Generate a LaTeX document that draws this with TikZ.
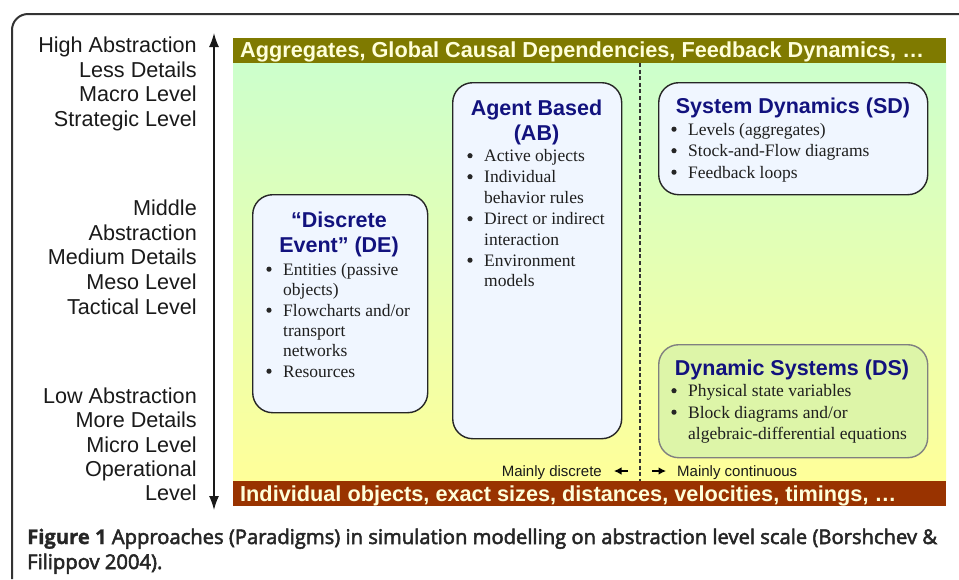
\documentclass[tikz,border=0pt]{standalone}
\usepackage{fontspec}
\setmainfont{Liberation Serif}
\newfontfamily\arialf{Liberation Sans}
\newfontfamily\capfont[FakeBold=1.2]{Open Sans}
\newfontfamily\capsemi[FakeBold=2.6]{Open Sans}
\usetikzlibrary{arrows.meta}
\definecolor{topgreen}{HTML}{CCFFCC}
\definecolor{botyellow}{HTML}{FFFF99}
\definecolor{olivebar}{HTML}{7F7A00}
\definecolor{rustbar}{HTML}{993300}
\definecolor{titleblue}{HTML}{12127E}
\definecolor{boxfill}{HTML}{F0F6FF}
\definecolor{dsfill}{HTML}{DDF5A8}
\definecolor{bartext}{HTML}{FFFFDA}
\definecolor{framegray}{HTML}{333333}
\definecolor{lbltext}{HTML}{1A1A1A}
\definecolor{captext}{HTML}{262626}
\newcommand\itm[3]{\fill[black!85] (#1-14,#2-5.8) circle (2.6pt);
  \node[btxt, anchor=base west] at (#1,#2) {#3};}
\newcommand\cnt[3]{\node[btxt, anchor=base west] at (#1,#2) {#3};}
\begin{document}
\begin{tikzpicture}[x=1pt,y=-1pt,
  lbl/.style={inner sep=0pt, text=lbltext, font=\arialf\fontsize{21.6}{26}\selectfont},
  bartxt/.style={inner sep=0pt, text=bartext, font=\arialf\bfseries\fontsize{21.7}{26}\selectfont},
  ttl/.style={inner sep=0pt, text=titleblue, font=\arialf\bfseries\fontsize{21.5}{26}\selectfont},
  btxt/.style={inner sep=0pt, text=black!88, font=\fontsize{17.5}{21}\selectfont},
  small/.style={inner sep=0pt, text=lbltext, font=\arialf\fontsize{15}{18}\selectfont},
  pbox/.style={draw=black!85, line width=1.4pt, rounded corners=20pt, fill=boxfill, inner sep=0pt, anchor=north west},
  dsbox/.style={draw=black!50, line width=1.4pt, rounded corners=20pt, fill=dsfill, inner sep=0pt, anchor=north west},
  bar/.style={inner sep=0pt, anchor=north west, minimum width=713pt, minimum height=25pt},
  dashline/.style={draw=framegray, line width=1.3pt, dash pattern=on 4pt off 2.6pt},
  captxt/.style={inner sep=0pt, text=captext, font=\capsemi\fontsize{20.2}{24}\selectfont}
]
\useasboundingbox (0,0) rectangle (959,579);
\fill[white] (0,0) rectangle (959,579);
% outer frame
\coordinate (fbl) at (12,579);
\coordinate (ftl) at (12,14);
\coordinate (ftr) at (959,14);
\draw[framegray, line width=2pt, rounded corners=16pt] (fbl) -- (ftl) -- (ftr);
% gradient panel
\shade[top color=topgreen, bottom color=botyellow] (233,62) rectangle (946,482);
\node[bar, fill=olivebar] (topbar) at (233,38) {};
\node[bar, fill=rustbar, minimum height=25.5pt] (botbar) at (233,480.5) {};
\node[bartxt, anchor=base west] (toptxt) at (240,57) {Aggregates, Global Causal Dependencies, Feedback Dynamics, …};
\node[bartxt, anchor=base west] (bottxt) at (240,501) {Individual objects, exact sizes, distances, velocities, timings, …};
% dashed divider
\coordinate (dtop) at (640,63);
\coordinate (dbot) at (640,481);
\draw[dashline] (dtop) -- (dbot);
% abstraction arrow
\coordinate (atop) at (214,33);
\coordinate (abot) at (214,510);
\draw[line width=1.5pt, black!90, {Latex[length=14pt,width=10pt]}-{Latex[length=14pt,width=10pt]}] (atop) -- (abot);
% left labels
\node[lbl, anchor=base east] (l1) at (197,52) {High Abstraction};
\node[lbl, anchor=base east] (l2) at (197,77) {Less Details};
\node[lbl, anchor=base east] (l3) at (197,101.5) {Macro Level};
\node[lbl, anchor=base east] (l4) at (197,126) {Strategic Level};
\node[lbl, anchor=base east] (m1) at (197,215) {Middle};
\node[lbl, anchor=base east] (m2) at (197,240) {Abstraction};
\node[lbl, anchor=base east] (m3) at (197,264.5) {Medium Details};
\node[lbl, anchor=base east] (m4) at (197,289) {Meso Level};
\node[lbl, anchor=base east] (m5) at (197,314) {Tactical Level};
\node[lbl, anchor=base east] (b1) at (197,403) {Low Abstraction};
\node[lbl, anchor=base east] (b2) at (197,427.5) {More Details};
\node[lbl, anchor=base east] (b3) at (197,452) {Micro Level};
\node[lbl, anchor=base east] (b4) at (197,476) {Operational};
\node[lbl, anchor=base east] (b5) at (197,500.5) {Level};
% boxes
\node[pbox, minimum width=175pt, minimum height=218pt] (de) at (252,194) {};
\node[pbox, minimum width=169pt, minimum height=356pt] (ab) at (452,82) {};
\node[pbox, minimum width=269pt, minimum height=112pt] (sd) at (658,82) {};
\node[dsbox, minimum width=269pt, minimum height=113pt] (ds) at (658,344) {};
% DE
\node[ttl, anchor=base] (detitle1) at (339,227) {“Discrete};
\node[ttl, anchor=base] (detitle2) at (339,252.5) {Event” (DE)};
\itm{283}{275}{Entities (passive}
\cnt{283}{295.5}{objects)}
\itm{283}{316}{Flowcharts and/or}
\cnt{283}{336.5}{transport}
\cnt{283}{356.5}{networks}
\itm{283}{377}{Resources}
% AB
\node[ttl, anchor=base] (abtitle1) at (536.5,115) {Agent Based};
\node[ttl, anchor=base] (abtitle2) at (536.5,140) {(AB)};
\itm{484}{161.5}{Active objects}
\itm{484}{182.5}{Individual}
\cnt{484}{203}{behavior rules}
\itm{484}{224.5}{Direct or indirect}
\cnt{484}{245}{interaction}
\itm{484}{266}{Environment}
\cnt{484}{286.5}{models}
% SD
\node[ttl, anchor=base] (sdtitle) at (793,113) {System Dynamics (SD)};
\itm{688}{135}{Levels (aggregates)}
\itm{688}{156.5}{Stock-and-Flow diagrams}
\itm{688}{178}{Feedback loops}
% DS
\node[ttl, anchor=base] (dstitle) at (792,375) {Dynamic Systems (DS)};
\itm{688}{396.5}{Physical state variables}
\itm{688}{418}{Block diagrams and/or}
\cnt{688}{439}{algebraic-differential equations}
% mainly labels
\node[small, anchor=base east] (mdisc) at (602,476.5) {Mainly discrete};
\node[small, anchor=base west] (mcont) at (677,476.5) {Mainly continuous};
\coordinate (dl1) at (628,471);
\coordinate (dl2) at (614,471);
\coordinate (dr1) at (652,471);
\coordinate (dr2) at (666,471);
\draw[line width=1.1pt, -{Latex[length=7.5pt,width=7.5pt]}] (dl1) -- (dl2);
\draw[line width=1.1pt, -{Latex[length=7.5pt,width=7.5pt]}] (dr1) -- (dr2);
% caption
\node[captxt, anchor=base west] (cap1) at (27,544) {{\capfont\bfseries Figure 1} Approaches (Paradigms) in simulation modelling on abstraction level scale (Borshchev \&};
\node[captxt, anchor=base west] (cap2) at (27,569) {Filippov 2004).};
\end{tikzpicture}
\end{document}
